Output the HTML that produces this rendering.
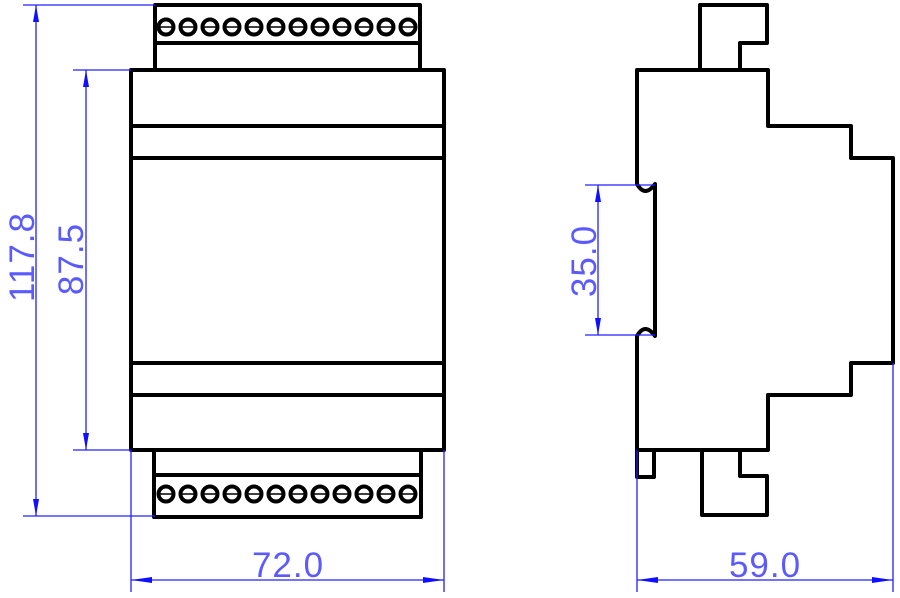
<!DOCTYPE html>
<html><head><meta charset="utf-8"><style>
html,body{margin:0;padding:0;background:#fff;}
svg{display:block;}
.k{fill:none;stroke:#000;stroke-width:4;stroke-linejoin:round;}
.b{stroke:#2020ff;stroke-width:1.3;fill:none;}
.a{fill:#1010ff;}
.t{font-family:"Liberation Sans",sans-serif;font-size:35px;fill:#5a5aff;font-weight:normal;letter-spacing:1px;}
.c{fill:none;stroke:#000;stroke-width:4;}
.cl{stroke:#000;stroke-width:1.5;}
</style></head><body>
<svg width="900" height="598" viewBox="0 0 900 598" xmlns="http://www.w3.org/2000/svg">
<!-- Front view -->
<rect class="k" x="155" y="5" width="265" height="65"/>
<line class="k" x1="155" y1="43" x2="420" y2="43"/>
<rect class="k" x="131" y="70" width="313" height="380"/>
<line class="k" x1="131" y1="126" x2="444" y2="126"/>
<line class="k" x1="131" y1="158" x2="444" y2="158"/>
<line class="k" x1="131" y1="363" x2="444" y2="363"/>
<line class="k" x1="131" y1="395" x2="444" y2="395"/>
<rect class="k" x="154" y="450" width="267" height="67"/>
<line class="k" x1="154" y1="475" x2="421" y2="475"/>
<g id="tc">
<circle class="c" cx="166" cy="27" r="7.5"/><circle class="c" cx="188" cy="27" r="7.5"/><circle class="c" cx="210" cy="27" r="7.5"/><circle class="c" cx="232" cy="27" r="7.5"/><circle class="c" cx="254" cy="27" r="7.5"/><circle class="c" cx="276" cy="27" r="7.5"/><circle class="c" cx="298" cy="27" r="7.5"/><circle class="c" cx="320" cy="27" r="7.5"/><circle class="c" cx="342" cy="27" r="7.5"/><circle class="c" cx="364" cy="27" r="7.5"/><circle class="c" cx="386" cy="27" r="7.5"/><circle class="c" cx="408" cy="27" r="7.5"/>
<line class="cl" x1="160" y1="27" x2="414" y2="27" stroke-dasharray="12 10"/>
</g>
<use href="#tc" transform="translate(0,467)"/>

<!-- Side view -->
<path class="k" d="M637,70 H768 V126 H851 V158 H893 V363 H851 V395 H768 V450 H637 V336 Q645,322 655,336 V184 Q645,198 637,184 Z"/>
<path class="k" d="M700,70 V5 H767 V43 H740 V70"/>
<path class="k" d="M637,450 V477 H654 V450"/>
<path class="k" d="M702,450 V515 H767 V476 H740 V450"/>

<!-- Dimensions left -->
<line class="b" x1="23" y1="5" x2="155" y2="5"/>
<line class="b" x1="23" y1="516" x2="155" y2="516"/>
<line class="b" x1="36" y1="5" x2="36" y2="516"/>
<polygon class="a" points="36,5 33,22 39,22"/>
<polygon class="a" points="36,516 33,499 39,499"/>
<line class="b" x1="73" y1="70" x2="131" y2="70"/>
<line class="b" x1="73" y1="450" x2="131" y2="450"/>
<line class="b" x1="86" y1="70" x2="86" y2="450"/>
<polygon class="a" points="86,70 83,87 89,87"/>
<polygon class="a" points="86,450 83,433 89,433"/>
<text class="t" transform="translate(34,257) rotate(-90)" text-anchor="middle">117.8</text>
<text class="t" transform="translate(83,259) rotate(-90)" text-anchor="middle">87.5</text>

<!-- 72.0 -->
<line class="b" x1="131" y1="450" x2="131" y2="592"/>
<line class="b" x1="444" y1="450" x2="444" y2="592"/>
<line class="b" x1="131" y1="580" x2="444" y2="580"/>
<polygon class="a" points="131,580 152,577 152,583"/>
<polygon class="a" points="444,580 423,577 423,583"/>
<text class="t" x="288" y="577" text-anchor="middle">72.0</text>

<!-- 35.0 -->
<line class="b" x1="585" y1="185" x2="655" y2="185"/>
<line class="b" x1="585" y1="335" x2="655" y2="335"/>
<line class="b" x1="598" y1="185" x2="598" y2="335"/>
<polygon class="a" points="598,185 595,202 601,202"/>
<polygon class="a" points="598,335 595,318 601,318"/>
<text class="t" transform="translate(596,261) rotate(-90)" text-anchor="middle">35.0</text>

<!-- 59.0 -->
<line class="b" x1="637" y1="450" x2="637" y2="592"/>
<line class="b" x1="893" y1="363" x2="893" y2="592"/>
<line class="b" x1="637" y1="580" x2="893" y2="580"/>
<polygon class="a" points="637,580 658,577 658,583"/>
<polygon class="a" points="893,580 872,577 872,583"/>
<text class="t" x="765" y="577" text-anchor="middle">59.0</text>
</svg>
</body></html>
